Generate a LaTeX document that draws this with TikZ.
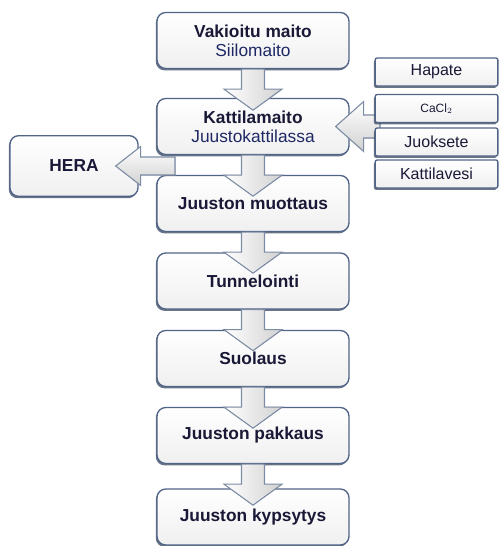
\documentclass[tikz,border=0pt]{standalone}
\usepackage{fontspec}
\setmainfont{Liberation Sans}
\usetikzlibrary{calc,shadows}
\definecolor{boxline}{RGB}{80,100,135}
\definecolor{boxtext}{RGB}{25,25,55}
\definecolor{subtext}{RGB}{30,40,100}
\definecolor{arrowline}{RGB}{125,140,165}
\tikzset{stage/.style={draw=boxline,line width=1pt,rounded corners=6.5pt,top color=white,bottom color=black!6,
  drop shadow={shadow xshift=-0.9pt,shadow yshift=-1.4pt,fill=boxline!70!black,opacity=0.75},
  minimum width=144pt,minimum height=42pt,align=center,text=boxtext,font=\fontsize{13}{14}\selectfont\bfseries},
 additive/.style={stage,rounded corners=1.5pt,minimum width=92pt,minimum height=21pt,font=\fontsize{12}{13}\selectfont},
 flowarrow/.style={draw=arrowline,line width=0.8pt,left color=white,right color=black!18},
 sidearrow/.style={draw=arrowline,line width=0.8pt,top color=white,bottom color=black!18}}
\newcommand{\flowdown}[1]{%
 \filldraw[flowarrow] ($(#1.south)+(-11.5,0)$) -- ++(0,20) -- ++(-17.5,0)
  -- ($(#1.south)+(0,41)$) -- ++(29,-21) -- ++(-17.5,0) -- ++(0,-20) -- cycle;}

\begin{document}
\begin{tikzpicture}[x=0.75pt,y=-0.75pt]
\useasboundingbox (0,0) rectangle (499,546);
\node[stage] (vakioitu) at (253,40.5) {Vakioitu maito\\{\mdseries\color{subtext}Siilomaito}};
\node[stage] (kattila) at (253,126.5) {Kattilamaito\\{\mdseries\color{subtext}Juustokattilassa}};
\node[stage] (muottaus) at (253,203.5) {Juuston muottaus};
\node[stage] (tunnelointi) at (253,281) {Tunnelointi};
\node[stage] (suolaus) at (253,358.5) {Suolaus};
\node[stage] (pakkaus) at (253,435.5) {Juuston pakkaus};
\node[stage] (kypsytys) at (253,517) {Juuston kypsytys};
\node[stage,minimum width=96pt,minimum height=45.5pt] (hera) at (74,166) {HERA};
\foreach \s in {vakioitu,kattila,muottaus,tunnelointi,suolaus,pakkaus} {\flowdown{\s}}
\coordinate (drain) at (175,166);
\filldraw[sidearrow] ($(hera.east)+(-23,0)$) -- ++(25,-19.5) -- ++(0,10.5) -- ($(drain)+(0,-9)$)
 -- ++(0,18) -- ($(hera.east)+(2,9)$) -- ++(0,10.5) -- cycle;
\coordinate (feed) at (380,126.5);
\filldraw[sidearrow] ($(kattila.east)+(-14,0)$) -- ++(28,-25) -- ++(0,13.5) -- ($(feed)+(0,-11.5)$)
 -- ++(0,23) -- ($(kattila.east)+(14,11.5)$) -- ++(0,13.5) -- cycle;
\node[additive] (hapate) at (436.5,72) {Hapate};
\node[additive,font=\fontsize{9}{10}\selectfont] (cacl) at (436.5,108.5) {CaCl$_2$};
\node[additive] (juoksete) at (436.5,142) {Juoksete};
\node[additive] (kattilavesi) at (436.5,174) {Kattilavesi};
\end{tikzpicture}
\end{document}
